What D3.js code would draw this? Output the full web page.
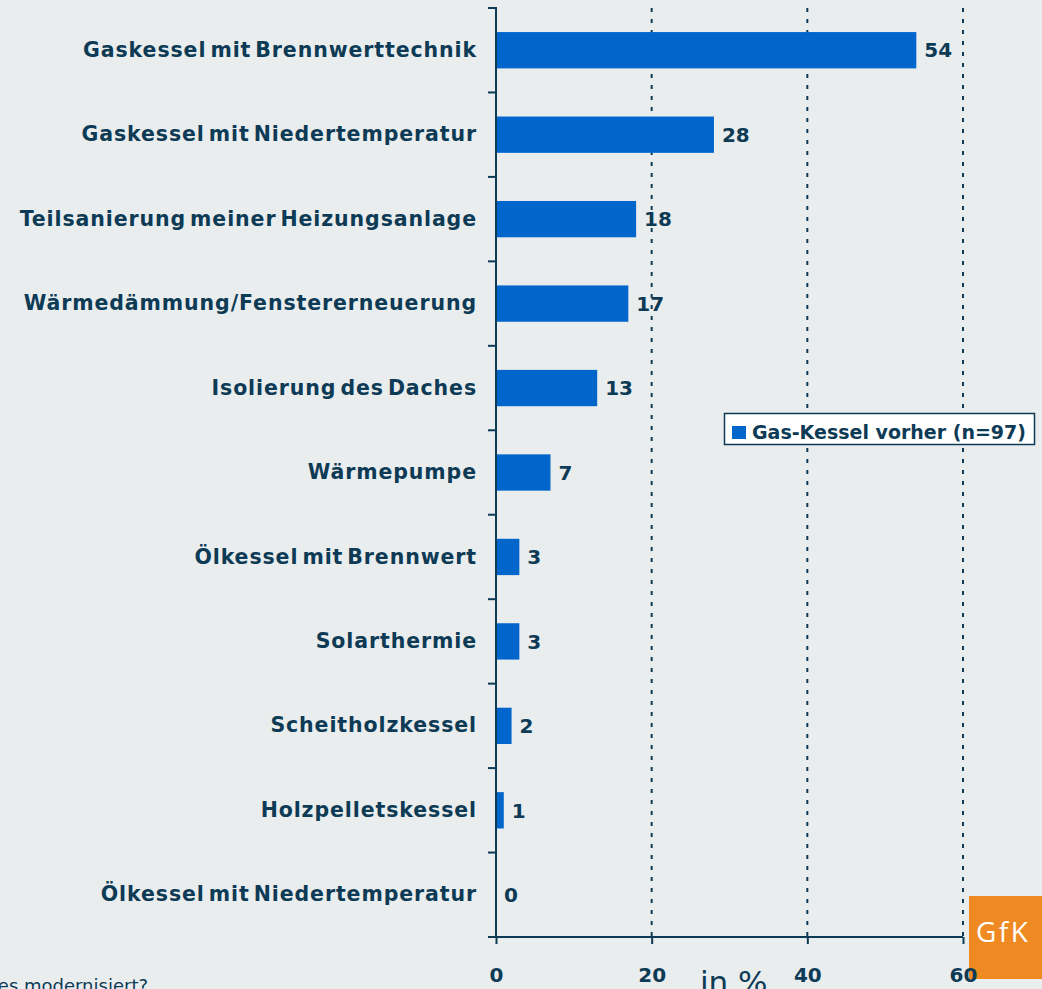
<!DOCTYPE html>
<html><head><meta charset="utf-8">
<script src="https://cdn.jsdelivr.net/npm/d3@7"></script>
<style>
html,body{margin:0;padding:0;background:#e9edee;overflow:hidden;}
svg{display:block;}
</style></head>
<body>
<svg id="c" width="1042" height="989"></svg>
<script>
const categories = [
  "Gaskessel mit Brennwerttechnik",
  "Gaskessel mit Niedertemperatur",
  "Teilsanierung meiner Heizungsanlage",
  "Wärmedämmung/Fenstererneuerung",
  "Isolierung des Daches",
  "Wärmepumpe",
  "Ölkessel mit Brennwert",
  "Solarthermie",
  "Scheitholzkessel",
  "Holzpelletskessel",
  "Ölkessel mit Niedertemperatur"
];
const values = [54, 28, 18, 17, 13, 7, 3, 3, 2, 1, 0];
const xTicks = [0, 20, 40, 60];
const seriesName = "Gas-Kessel vorher (n=97)";

const W = 1042, H = 989;
const navy = "#0d3a55", blue = "#0066cc";
const svg = d3.select("#c");
svg.append("rect").attr("width", W).attr("height", H).attr("fill", "#e9edee");

const x = d3.scaleLinear().domain([0, 60]).range([496, 963]);
const y = d3.scaleBand().domain(categories).range([8, 937]).paddingInner(0.57).paddingOuter(0.285);
const step = y.step();
const bounds = categories.map(c => y(c) - step * y.paddingInner() / 2).concat([937]);

const font = "'DejaVu Sans', Verdana, sans-serif";

// gridlines
svg.append("g").selectAll("line").data(xTicks.filter(d => d > 0)).join("line")
  .attr("x1", d => x(d)).attr("x2", d => x(d))
  .attr("y1", 8).attr("y2", 937)
  .attr("stroke", navy).attr("stroke-width", 2).attr("stroke-dasharray", "4,7");

// bars
svg.append("g").selectAll("rect").data(categories).join("rect")
  .attr("x", x(0)).attr("y", d => y(d))
  .attr("width", (d, i) => x(values[i]) - x(0))
  .attr("height", y.bandwidth()).attr("fill", blue);

// value labels
svg.append("g").selectAll("text").data(categories).join("text")
  .attr("x", (d, i) => x(values[i]) + 8)
  .attr("y", d => y(d) + y.bandwidth() / 2)
  .attr("dy", "0.36em")
  .attr("font-family", font).attr("font-weight", "bold").attr("font-size", 20)
  .attr("fill", navy)
  .text((d, i) => values[i]);

// y axis (labels)
const yAxis = svg.append("g").attr("transform", `translate(${x(0)},0)`)
  .call(d3.axisLeft(y).tickSize(0).tickPadding(19));
yAxis.select(".domain").remove();
yAxis.selectAll("text").attr("font-family", font).attr("font-weight", "bold")
  .attr("font-size", 20.5).attr("fill", navy).attr("letter-spacing", 0.9)
  .attr("word-spacing", -4);
// category boundary ticks
svg.append("g").selectAll("line").data(bounds).join("line")
  .attr("x1", x(0) - 8).attr("x2", x(0)).attr("y1", d => d).attr("y2", d => d)
  .attr("stroke", navy).attr("stroke-width", 2);
svg.append("line").attr("x1", x(0)).attr("x2", x(0)).attr("y1", 7).attr("y2", 937)
  .attr("stroke", navy).attr("stroke-width", 2);

// GfK logo
svg.append("rect").attr("x", 969).attr("y", 896).attr("width", 80).attr("height", 83).attr("fill", "#ef8a22");
svg.append("text").attr("x", 976).attr("y", 942)
  .attr("font-family", "'Open Sans', sans-serif").attr("font-size", 28).attr("fill", "#ffffff")
  .attr("letter-spacing", 2.5).text("GfK");

// x axis
const xAxis = svg.append("g").attr("transform", "translate(0,937)")
  .call(d3.axisBottom(x).tickValues(xTicks).tickSize(7).tickSizeOuter(0).tickPadding(24));
xAxis.select(".domain").attr("stroke", navy).attr("stroke-width", 2)
  .attr("d", `M${x(0) - 8},0H${x(60)}`);
xAxis.selectAll(".tick line").attr("stroke", navy).attr("stroke-width", 2);
xAxis.selectAll("text").attr("font-family", font).attr("font-weight", "bold")
  .attr("font-size", 20).attr("fill", navy);

svg.append("text").attr("x", 700).attr("y", 993)
  .attr("font-family", font).attr("font-size", 31).attr("fill", navy).text("in %");

svg.append("text").attr("x", 148).attr("y", 992).attr("text-anchor", "end")
  .attr("font-family", font).attr("font-size", 18).attr("fill", navy).text("es modernisiert?");

// legend
const lg = svg.append("g");
lg.append("rect").attr("x", 724.5).attr("y", 413.5).attr("width", 310).attr("height", 31)
  .attr("fill", "#ffffff").attr("stroke", navy).attr("stroke-width", 1.5);
lg.append("rect").attr("x", 732).attr("y", 426).attr("width", 14).attr("height", 13).attr("fill", blue);
lg.append("text").attr("x", 752).attr("y", 439)
  .attr("font-family", font).attr("font-weight", "bold").attr("font-size", 19)
  .attr("fill", navy).text(seriesName);
</script>
</body></html>
